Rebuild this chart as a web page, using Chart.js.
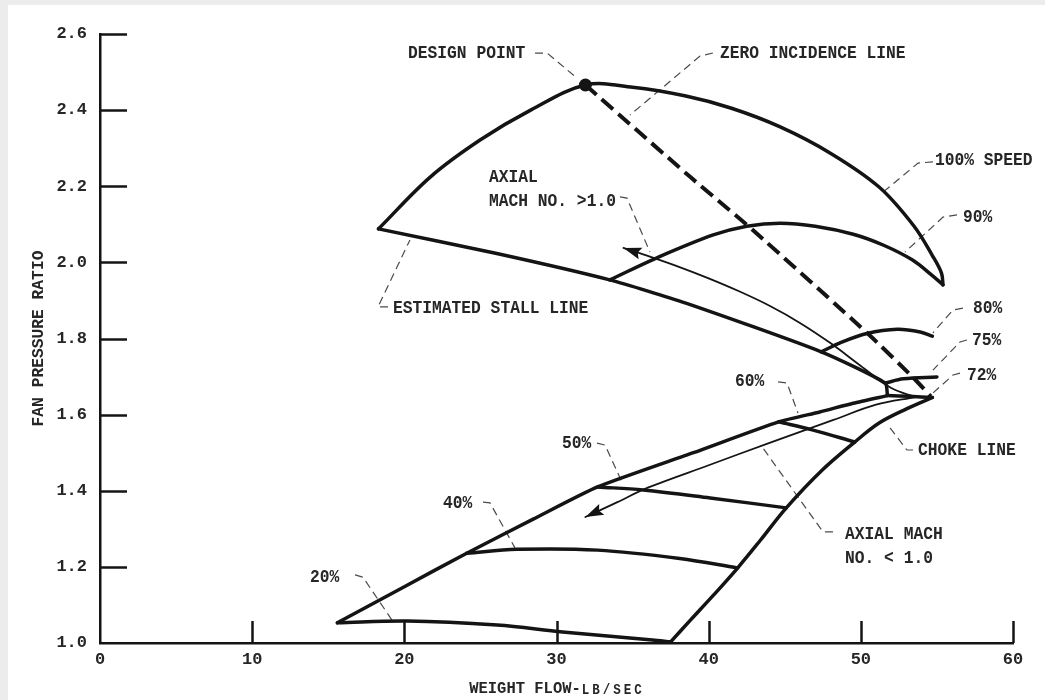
<!DOCTYPE html>
<html>
<head>
<meta charset="utf-8">
<title>Fan performance map</title>
<script src="https://cdn.jsdelivr.net/npm/chart.js@4.4.1/dist/chart.umd.min.js"></script>
<style>
  html, body { margin: 0; padding: 0; background: #ececec; }
  #sheet { position: absolute; left: 8px; top: 5px; width: 1037px; height: 695px; background: #ffffff; }
  #map { position: absolute; left: 0; top: 0; }
</style>
</head>
<body>
<div id="sheet"></div>
<canvas id="map" width="1045" height="700"></canvas>
<script>
// ---- axes ----
const xTickValues = [0, 10, 20, 30, 40, 50, 60];
const yTickValues = [1.0, 1.2, 1.4, 1.6, 1.8, 2.0, 2.2, 2.4, 2.6];

// ---- speed lines: [weight flow lb/sec, fan pressure ratio] ----
const speed100 = [[18.3, 2.088], [21.7, 2.224], [25.0, 2.322], [28.3, 2.400], [31.9, 2.466], [35.0, 2.460],
                  [38.5, 2.437], [41.5, 2.405], [44.7, 2.356], [48.0, 2.287], [51.2, 2.198], [53.5, 2.095],
                  [54.7, 2.018], [55.3, 1.972], [55.4, 1.941]];
const speed90  = [[33.5, 1.954], [36.6, 2.012], [40.3, 2.072], [42.5, 2.095], [44.7, 2.103], [47.0, 2.095],
                  [49.5, 2.074], [51.5, 2.045], [53.4, 2.006], [54.7, 1.965], [55.4, 1.941]];
const speed80  = [[47.4, 1.765], [48.6, 1.788], [50.4, 1.813], [52.4, 1.824], [53.9, 1.817], [54.7, 1.806]];
const speed75  = [[51.6, 1.683], [52.8, 1.694], [55.0, 1.699]];
const speed72  = [[51.75, 1.650], [53.2, 1.648], [54.7, 1.645]];
const speed60  = [[44.6, 1.581], [46.8, 1.560], [49.6, 1.528]];
const speed50  = [[32.7, 1.410], [35.7, 1.402], [40.1, 1.381], [45.1, 1.355]];
const speed40  = [[24.1, 1.236], [27.4, 1.246], [32.7, 1.244], [38.1, 1.222], [41.9, 1.197]];
const speed20  = [[15.6, 1.053], [20.2, 1.058], [26.1, 1.047], [30.4, 1.029], [36.3, 1.008], [37.5, 1.003]];

// ---- boundaries ----
const stallLineHigh = [[18.3, 2.088], [26.0, 2.024], [33.5, 1.954], [38.5, 1.893], [47.4, 1.765],
                       [51.6, 1.683], [51.75, 1.650]];
const stallLineLow  = [[15.6, 1.053], [20.0, 1.148], [24.1, 1.236], [28.5, 1.326], [32.7, 1.410],
                       [39.0, 1.500], [44.6, 1.581], [47.3, 1.607], [49.5, 1.630], [51.75, 1.650]];
const chokeLine     = [[37.5, 1.003], [38.8, 1.060], [40.3, 1.125], [41.9, 1.197], [43.4, 1.270], [45.1, 1.355],
                       [47.4, 1.452], [49.6, 1.528], [51.2, 1.578], [53.0, 1.615], [54.7, 1.645]];
const zeroIncidence = [[31.9, 2.466], [38.8, 2.224], [42.9, 2.085], [50.4, 1.815], [53.4, 1.699], [54.6, 1.648]];
const machAbove1    = [[34.4, 2.038], [36.0, 2.017], [38.0, 1.989], [40.0, 1.958], [42.0, 1.924], [44.0, 1.886],
                       [46.0, 1.841], [48.0, 1.788], [50.0, 1.728], [52.0, 1.670], [53.6, 1.646]];
const machBelow1    = [[31.9, 1.331], [34.0, 1.370], [36.0, 1.408], [40.0, 1.467], [44.0, 1.526],
                       [48.2, 1.586], [51.0, 1.626], [53.6, 1.646]];
const designPoint   = [[31.9, 2.466]];

// ---- callouts: text anchor (left, middle) and leader path ----
const calloutTexts = [
  ['DESIGN POINT', 20.24, 2.550],
  ['ZERO INCIDENCE LINE', 40.74, 2.550],
  ['100% SPEED', 54.87, 2.269],
  ['90%', 56.71, 2.117],
  ['80%', 57.37, 1.880],
  ['75%', 57.30, 1.796],
  ['72%', 56.97, 1.704],
  ['CHOKE LINE', 53.76, 1.507],
  ['60%', 41.73, 1.686],
  ['AXIAL MACH', 48.96, 1.284],
  ['NO. < 1.0', 48.96, 1.223],
  ['50%', 30.36, 1.525],
  ['40%', 22.54, 1.368],
  ['20%', 13.80, 1.173],
  ['AXIAL', 25.56, 2.224],
  ['MACH NO. >1.0', 25.56, 2.161],
  ['ESTIMATED STALL LINE', 19.25, 1.880]
];
const leaderPaths = [
  [[28.59, 2.550], [29.38, 2.550], [31.35, 2.484]],
  [[40.28, 2.550], [39.43, 2.542], [34.83, 2.387]],
  [[54.74, 2.264], [53.76, 2.261], [51.39, 2.182]],
  [[56.32, 2.125], [55.40, 2.119], [52.90, 2.027]],
  [[56.71, 1.880], [56.06, 1.875], [54.74, 1.815]],
  [[56.97, 1.796], [56.52, 1.791], [54.74, 1.717]],
  [[56.52, 1.709], [56.06, 1.704], [54.74, 1.657]],
  [[53.43, 1.507], [53.03, 1.507], [51.92, 1.565]],
  [[44.56, 1.686], [45.15, 1.683], [45.87, 1.604]],
  [[48.17, 1.292], [47.51, 1.292], [43.57, 1.512]],
  [[32.66, 1.525], [33.19, 1.520], [34.30, 1.423]],
  [[25.17, 1.370], [25.63, 1.368], [27.27, 1.250]],
  [[16.76, 1.179], [17.28, 1.173], [19.19, 1.060]],
  [[34.17, 2.172], [34.63, 2.169], [36.14, 2.027]],
  [[18.93, 1.883], [18.27, 1.883], [20.37, 2.059]]
];

const INK = '#141414';
const TEXT_INK = '#262626';
const LABEL_FONT = "'Liberation Mono', 'DejaVu Sans Mono', monospace";

const pts = arr => arr.map(([x, y]) => ({ x, y }));

function curve(data, width, extra) {
  return Object.assign({
    data: pts(data), showLine: true, borderColor: INK, borderWidth: width,
    pointRadius: 0, tension: 0.35, fill: false,
    borderCapStyle: 'round', borderJoinStyle: 'round'
  }, extra || {});
}

const datasets = [
  curve(designPoint, 0, { showLine: false, pointRadius: 6.5, pointBackgroundColor: INK, pointBorderWidth: 0 }),
  curve(speed100, 3.5), curve(speed90, 3.5), curve(speed80, 3.5), curve(speed75, 3.5), curve(speed72, 3.5),
  curve(speed60, 3.5), curve(speed50, 3.5), curve(speed40, 3.5), curve(speed20, 3.5),
  curve(stallLineHigh, 3.5, { tension: 0.2 }), curve(stallLineLow, 3.5, { tension: 0.2 }), curve(chokeLine, 3.5),
  curve(zeroIncidence, 4, { borderDash: [15, 7], borderCapStyle: 'butt', tension: 0.2 }),
  curve(machAbove1, 1.8, { arrowAtStart: true }),
  curve(machBelow1, 1.8, { arrowAtStart: true })
];
leaderPaths.forEach(p => datasets.push({
  data: pts(p), showLine: true, borderColor: '#4a4a4a', borderWidth: 1.2, borderDash: [8, 5],
  pointRadius: 0, tension: 0, fill: false
}));

// inward tick marks on both axes
const innerTicks = {
  id: 'innerTicks',
  afterDatasetsDraw(chart) {
    const { ctx, chartArea, scales } = chart;
    ctx.save();
    ctx.strokeStyle = INK;
    ctx.lineWidth = 2.5;
    ctx.lineCap = 'butt';
    yTickValues.slice(1).forEach(v => {
      const py = Math.round(scales.y.getPixelForValue(v)) + 0.5;
      ctx.beginPath(); ctx.moveTo(chartArea.left, py); ctx.lineTo(chartArea.left + 27, py); ctx.stroke();
    });
    xTickValues.slice(1).forEach(v => {
      const px = Math.round(scales.x.getPixelForValue(v)) + 0.5;
      ctx.beginPath(); ctx.moveTo(px, chartArea.bottom); ctx.lineTo(px, chartArea.bottom - 22); ctx.stroke();
    });
    ctx.restore();
  }
};

// filled arrowheads on the Mach-number trend lines
const arrowHeads = {
  id: 'arrowHeads',
  afterDatasetsDraw(chart) {
    const { ctx, scales } = chart;
    chart.data.datasets.forEach(ds => {
      if (!ds.arrowAtStart) return;
      const a = ds.data[0], b = ds.data[1];
      const ax = scales.x.getPixelForValue(a.x), ay = scales.y.getPixelForValue(a.y);
      const bx = scales.x.getPixelForValue(b.x), by = scales.y.getPixelForValue(b.y);
      const ang = Math.atan2(ay - by, ax - bx);
      const len = 18, half = 6;
      ctx.save();
      ctx.translate(ax, ay);
      ctx.rotate(ang);
      ctx.fillStyle = INK;
      ctx.beginPath();
      ctx.moveTo(0, 0); ctx.lineTo(-len, -half); ctx.lineTo(-len + 3, 0); ctx.lineTo(-len, half);
      ctx.closePath(); ctx.fill();
      ctx.restore();
    });
  }
};

// callout texts and the x-axis title
const callouts = {
  id: 'callouts',
  afterDraw(chart) {
    const { ctx, chartArea, scales } = chart;
    ctx.save();
    ctx.fillStyle = TEXT_INK;
    ctx.textBaseline = 'middle';
    ctx.textAlign = 'left';
    ctx.font = 'bold 16.3px ' + LABEL_FONT;
    calloutTexts.forEach(([t, x, y]) => {
      ctx.save();
      ctx.translate(scales.x.getPixelForValue(x), scales.y.getPixelForValue(y));
      ctx.scale(1, 1.12);
      ctx.fillText(t, 0, 0);
      ctx.restore();
    });
    // WEIGHT FLOW-LB/SEC with the unit in small capitals
    const big = 'WEIGHT FLOW-', small = 'LB/SEC';
    ctx.font = 'bold 15.5px ' + LABEL_FONT;
    const wBig = ctx.measureText(big).width;
    ctx.font = 'bold 12.5px ' + LABEL_FONT;
    ctx.letterSpacing = '3px';
    const wSmall = ctx.measureText(small).width;
    const cx = (chartArea.left + chartArea.right) / 2;
    const x0 = cx - (wBig + wSmall) / 2;
    const yTitle = chartArea.bottom + 46;
    ctx.letterSpacing = '0px';
    ctx.font = 'bold 15.5px ' + LABEL_FONT;
    ctx.save(); ctx.translate(x0, yTitle); ctx.scale(1, 1.12); ctx.fillText(big, 0, 0); ctx.restore();
    ctx.font = 'bold 12.5px ' + LABEL_FONT;
    ctx.letterSpacing = '3px';
    ctx.save(); ctx.translate(x0 + wBig + 1, yTitle + 1.5); ctx.scale(1, 1.12); ctx.fillText(small, 0, 0); ctx.restore();
    ctx.restore();
  }
};

new Chart(document.getElementById('map'), {
  type: 'scatter',
  data: { datasets },
  options: {
    responsive: false,
    animation: false,
    events: [],
    layout: { padding: { top: 34, right: 32, left: 0, bottom: 0 } },
    plugins: { legend: { display: false }, tooltip: { enabled: false } },
    scales: {
      x: {
        type: 'linear', position: 'bottom', min: 0, max: 60,
        afterFit: s => { s.height = 57; },
        afterBuildTicks: s => { s.ticks = xTickValues.map(v => ({ value: v })); },
        ticks: { color: TEXT_INK, padding: 7, font: { family: LABEL_FONT, size: 17, weight: 'bold' }, callback: v => String(v) },
        grid: { display: true, drawOnChartArea: false, drawTicks: false },
        border: { display: true, color: INK, width: 2.5 }
      },
      y: {
        type: 'linear', position: 'left', min: 1.0, max: 2.6,
        afterFit: s => { s.width = 100; },
        afterBuildTicks: s => { s.ticks = yTickValues.map(v => ({ value: v })); },
        ticks: { color: TEXT_INK, padding: 13, font: { family: LABEL_FONT, size: 17, weight: 'bold' }, callback: v => Number(v).toFixed(1) },
        grid: { display: true, drawOnChartArea: false, drawTicks: false },
        border: { display: true, color: INK, width: 2.5 },
        title: { display: true, text: 'FAN PRESSURE RATIO', color: TEXT_INK,
                 font: { family: LABEL_FONT, size: 16.3, weight: 'bold' }, padding: { top: 29, bottom: 0 } }
      }
    }
  },
  plugins: [innerTicks, arrowHeads, callouts]
});
</script>
</body>
</html>
